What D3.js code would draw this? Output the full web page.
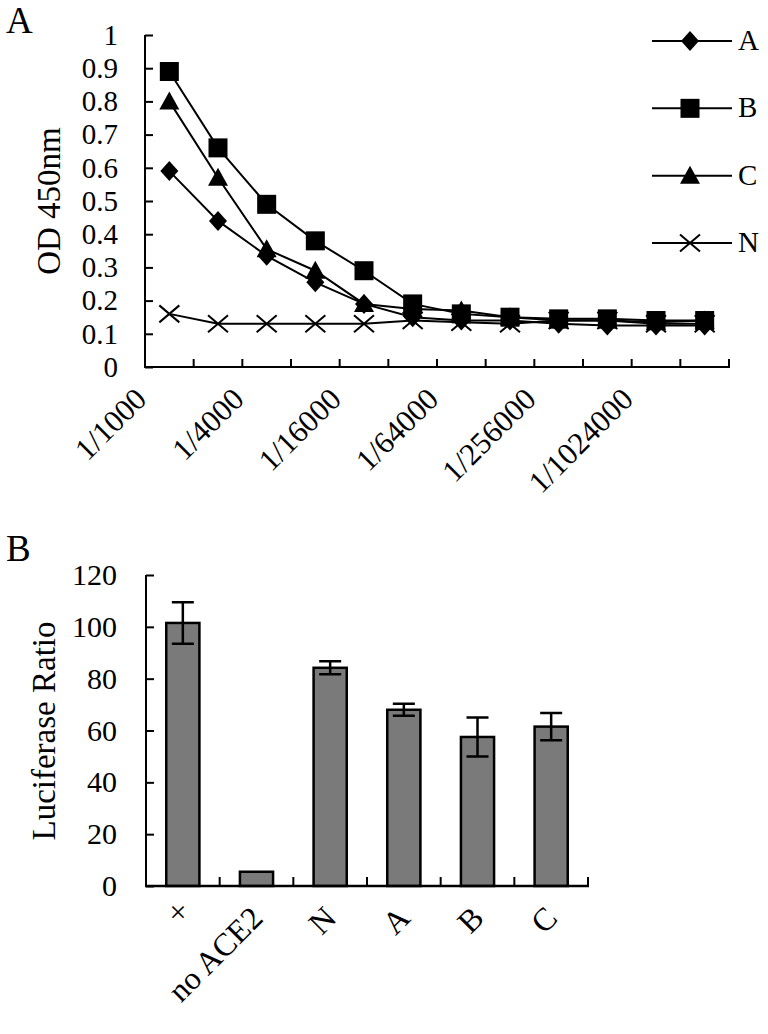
<!DOCTYPE html>
<html><head><meta charset="utf-8">
<script src="https://cdn.jsdelivr.net/npm/d3@7"></script>
<style>body{margin:0;background:#fff}svg{display:block}svg text{font-family:"Liberation Serif","Times New Roman",serif}</style>
</head><body>
<svg id="c" width="768" height="1034"></svg>
<script>
// ---- Panel A data ----
const dilutions = ["1/1000","1/2000","1/4000","1/8000","1/16000","1/32000","1/64000","1/128000","1/256000","1/512000","1/1024000","1/2048000"];
const shownDilutions = ["1/1000","1/4000","1/16000","1/64000","1/256000","1/1024000"];
const seriesA = [0.59,0.44,0.335,0.255,0.19,0.15,0.14,0.14,0.13,0.125,0.125,0.125];
const seriesB = [0.89,0.66,0.49,0.38,0.29,0.19,0.16,0.15,0.145,0.145,0.14,0.14];
const seriesC = [0.80,0.57,0.355,0.29,0.19,0.175,0.17,0.15,0.14,0.14,0.135,0.14];
const seriesN = [0.16,0.13,0.13,0.13,0.13,0.14,0.135,0.13,0.14,0.14,0.13,0.13];
const seriesNames = ["A","B","C","N"];
const odTicks = [0,0.1,0.2,0.3,0.4,0.5,0.6,0.7,0.8,0.9,1];
// ---- Panel B data ----
const groups = ["×","no ACE2","N","A","B","C"];
const ratioMean = [101.5,5.5,84.2,68,57.5,61.5];
const ratioErr = [8,0,2.5,2.3,7.5,5.3];
const ratioTicks = [0,20,40,60,80,100,120];

const svg = d3.select("#c");
const FONT = '"Liberation Serif","Times New Roman",serif';

// ===== Panel A =====
const xA = d3.scaleBand().domain(dilutions).range([145,729]).padding(0);
const yA = d3.scaleLinear().domain([0,1]).range([367,35]);
const gA = svg.append("g");

gA.append("g").attr("transform","translate(145,0)")
  .call(d3.axisLeft(yA).tickValues(odTicks).tickSize(-8).tickPadding(27).tickFormat(d3.format("")))
  .call(g=>{g.attr("font-family",null).attr("font-size",null);
    g.select(".domain").attr("d","M0,"+yA(1)+"V"+yA(0)).attr("stroke","#000").attr("stroke-width",2);
    g.selectAll(".tick line").attr("stroke","#000").attr("stroke-width",2);
    g.selectAll(".tick text").style("font-family",FONT).attr("font-size",29).attr("fill","#000");});
const xAx = gA.append("g").attr("transform","translate(0,367)");
xAx.append("line").attr("x1",144).attr("x2",730).attr("stroke","#000").attr("stroke-width",2);
const bounds = dilutions.map(d=>xA(d)+xA.bandwidth());
xAx.selectAll("line.t").data(bounds).join("line").attr("class","t")
  .attr("x1",d=>d).attr("x2",d=>d).attr("y1",0).attr("y2",-8).attr("stroke","#000").attr("stroke-width",2);
xAx.selectAll("text").data(shownDilutions).join("text")
  .attr("transform",d=>`translate(${xA(d)+xA.bandwidth()/2-21},${34}) rotate(-45)`)
  .attr("text-anchor","end").attr("font-size",31).attr("fill","#000").text(d=>d);

const allSeries = [seriesA,seriesB,seriesC,seriesN];
const cx = (d,i)=>xA(dilutions[i])+xA.bandwidth()/2;
const line = d3.line().x((d,i)=>cx(d,i)).y(d=>yA(d));
allSeries.forEach(s=>{
  gA.append("path").attr("d",line(s)).attr("fill","none").attr("stroke","#000").attr("stroke-width",2);
});
function marker(g,name,x,y){
  if(name==="A"){g.append("path").attr("d",`M${x},${y-10}L${x+9},${y}L${x},${y+10}L${x-9},${y}Z`).attr("fill","#000");}
  else if(name==="B"){g.append("rect").attr("x",x-9.5).attr("y",y-9.5).attr("width",19).attr("height",19).attr("fill","#000");}
  else if(name==="C"){g.append("path").attr("d",`M${x},${y-10}L${x+10},${y+8}L${x-10},${y+8}Z`).attr("fill","#000");}
  else {g.append("path").attr("d",`M${x-10},${y-8.5}L${x+10},${y+8.5}M${x-10},${y+8.5}L${x+10},${y-8.5}`).attr("stroke","#000").attr("stroke-width",2).attr("fill","none");}
}
[3,0,2,1].forEach(k=>{
  allSeries[k].forEach((v,i)=>marker(gA,seriesNames[k],cx(v,i),yA(v)));
});
const legY = d3.scalePoint().domain(seriesNames).range([41,243]);
seriesNames.forEach(n=>{
  const y = legY(n);
  gA.append("line").attr("x1",652).attr("x2",732).attr("y1",y).attr("y2",y).attr("stroke","#000").attr("stroke-width",2);
  marker(gA,n,690,y);
  gA.append("text").attr("x",738).attr("y",y+9).attr("font-size",29).attr("fill","#000").text(n);
});
gA.append("text").attr("transform","translate(60,201) rotate(-90)").attr("text-anchor","middle")
  .attr("font-size",33).attr("fill","#000").text("OD 450nm");
svg.append("text").attr("x",6).attr("y",33).attr("font-size",37).attr("fill","#000").text("A");

// ===== Panel B =====
const xB = d3.scaleBand().domain(groups).range([146,588]).paddingInner(0.55).paddingOuter(0.275);
const xBand = d3.scaleBand().domain(groups).range([146,588]).padding(0);
const yB = d3.scaleLinear().domain([0,120]).range([886,575]);
const gB = svg.append("g");
gB.append("g").attr("transform","translate(146,0)")
  .call(d3.axisLeft(yB).tickValues(ratioTicks).tickSize(-8).tickPadding(29).tickFormat(d3.format("d")))
  .call(g=>{g.attr("font-family",null).attr("font-size",null);
    g.select(".domain").attr("d","M0,"+yB(120)+"V"+yB(0)).attr("stroke","#000").attr("stroke-width",2);
    g.selectAll(".tick line").attr("stroke","#000").attr("stroke-width",2);
    g.selectAll(".tick text").style("font-family",FONT).attr("font-size",30).attr("fill","#000");});
gB.selectAll("rect.bar").data(groups).join("rect").attr("class","bar")
  .attr("x",d=>xB(d)).attr("width",xB.bandwidth())
  .attr("y",(d,i)=>yB(ratioMean[i])).attr("height",(d,i)=>yB(0)-yB(ratioMean[i]))
  .attr("fill","#7a7a7a").attr("stroke","#000").attr("stroke-width",2.5);
groups.forEach((g,i)=>{
  if(!ratioErr[i]) return;
  const x = xB(g)+xB.bandwidth()/2, hi=yB(ratioMean[i]+ratioErr[i]), lo=yB(ratioMean[i]-ratioErr[i]);
  gB.append("path").attr("d",`M${x},${hi}V${lo}M${x-11},${hi}H${x+11}M${x-11},${lo}H${x+11}`)
    .attr("stroke","#000").attr("stroke-width",2.5).attr("fill","none");
});
const xBx = gB.append("g").attr("transform","translate(0,886)");
xBx.append("line").attr("x1",145).attr("x2",589).attr("stroke","#000").attr("stroke-width",2.5);
xBx.selectAll("line.t").data(groups.map(d=>xBand(d)+xBand.bandwidth())).join("line").attr("class","t")
  .attr("x1",d=>d).attr("x2",d=>d).attr("y1",0).attr("y2",-9).attr("stroke","#000").attr("stroke-width",2);
xBx.selectAll("text").data(groups).join("text")
  .attr("transform",(d,i)=> i===0 ? `translate(${xBand(d)+xBand.bandwidth()/2-5},${36})` : `translate(${xBand(d)+xBand.bandwidth()/2+8},${34}) rotate(-45)`)
  .attr("text-anchor",(d,i)=>i===0?"middle":"end").attr("font-size",(d,i)=>i===0?30:32).attr("fill","#000").text(d=>d);
gB.append("text").attr("transform","translate(55,731) rotate(-90)").attr("text-anchor","middle")
  .attr("font-size",33).attr("fill","#000").text("Luciferase Ratio");
svg.append("text").attr("x",6).attr("y",561).attr("font-size",37).attr("fill","#000").text("B");
</script>
</body></html>
